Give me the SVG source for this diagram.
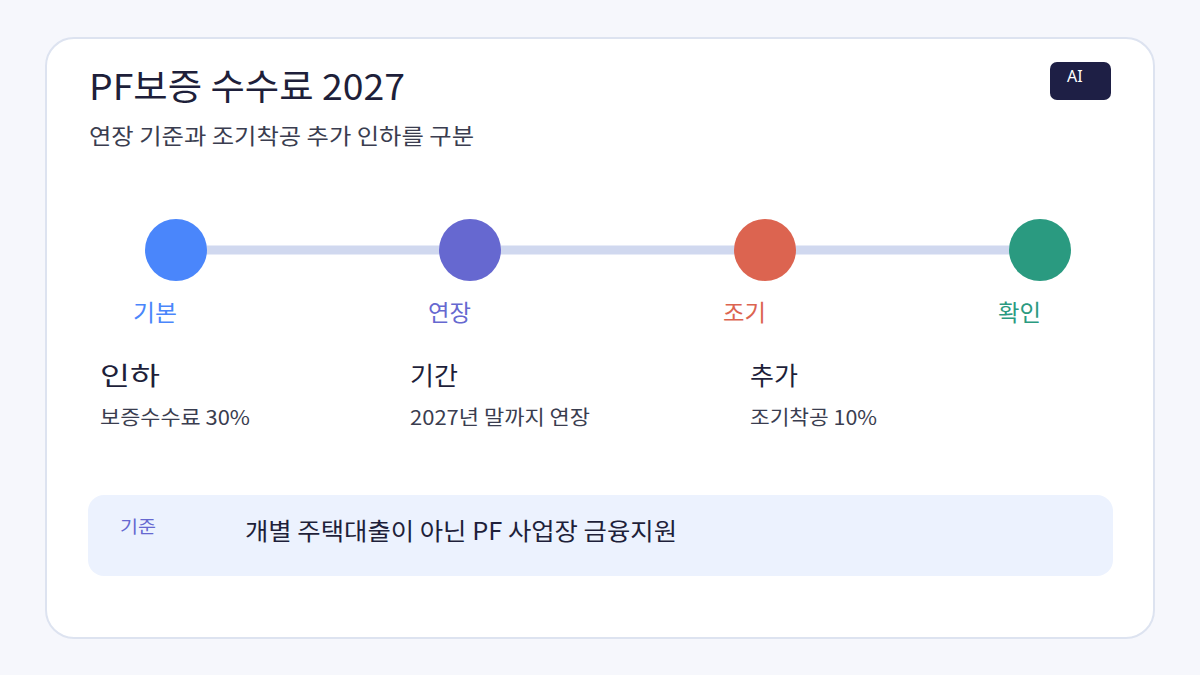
<svg xmlns="http://www.w3.org/2000/svg" width="1200" height="675" viewBox="0 0 1200 675">
<style>
text{font-family:"Noto Sans CJK KR","Noto Sans",sans-serif}
.title{font-size:36px;fill:#1e1f3a}
.sub{font-size:22px;fill:#3a3d4f}
.lbl{font-size:23px;text-anchor:end}
.head{font-size:25px;fill:#1e1f3a}
.det{font-size:20px;fill:#3a3d4f}
</style>
<rect width="1200" height="675" fill="#f6f7fc"/>
<rect x="46" y="38" width="1108" height="600" rx="28" fill="#ffffff" stroke="#dde3f0" stroke-width="2"/>
<text class="title" x="89" y="100" textLength="316" lengthAdjust="spacingAndGlyphs">PF보증 수수료 2027</text>
<text class="sub" x="89" y="144" textLength="385" lengthAdjust="spacingAndGlyphs">연장 기준과 조기착공 추가 인하를 구분</text>
<g id="badge">
<rect x="1050" y="62" width="61" height="38" rx="7" fill="#1e1f45"/>
<text x="1067" y="82" font-size="16" fill="#ffffff" style="font-family:'Noto Sans',sans-serif">AI</text>
</g>
<g id="connectors">
<line x1="176" y1="250" x2="1040" y2="250" stroke="#d0d8ef" stroke-width="9"/>
</g>
<g id="n1">
<circle cx="176" cy="250" r="31" fill="#4a86fb"/>
<text class="lbl" x="177" y="321" fill="#4a86fb" textLength="44" lengthAdjust="spacingAndGlyphs">기본</text>
<text class="head" x="100" y="385" textLength="60" lengthAdjust="spacingAndGlyphs">인하</text>
<text class="det" x="100" y="425" textLength="150" lengthAdjust="spacingAndGlyphs">보증수수료 30%</text>
</g>
<g id="n2">
<circle cx="470" cy="250" r="31" fill="#6668d0"/>
<text class="lbl" x="471" y="321" fill="#6668d0" textLength="43" lengthAdjust="spacingAndGlyphs">연장</text>
<text class="head" x="410" y="385" textLength="48" lengthAdjust="spacingAndGlyphs">기간</text>
<text class="det" x="410" y="425" textLength="180" lengthAdjust="spacingAndGlyphs">2027년 말까지 연장</text>
</g>
<g id="n3">
<circle cx="765" cy="250" r="31" fill="#dc6450"/>
<text class="lbl" x="766" y="321" fill="#dc6450" textLength="43" lengthAdjust="spacingAndGlyphs">조기</text>
<text class="head" x="750" y="385" textLength="48" lengthAdjust="spacingAndGlyphs">추가</text>
<text class="det" x="750" y="425" textLength="127" lengthAdjust="spacingAndGlyphs">조기착공 10%</text>
</g>
<g id="n4">
<circle cx="1040" cy="250" r="31" fill="#2a9a80"/>
<text class="lbl" x="1041" y="321" fill="#2a9a80" textLength="43" lengthAdjust="spacingAndGlyphs">확인</text>
</g>
<g id="note">
<rect x="88" y="495" width="1025" height="81" rx="16" fill="#ecf2fe"/>
<text x="120" y="533" font-size="17" fill="#6668d0" textLength="36" lengthAdjust="spacingAndGlyphs">기준</text>
<text x="245" y="540" font-size="24" fill="#1e1f3a" textLength="432" lengthAdjust="spacingAndGlyphs">개별 주택대출이 아닌 PF 사업장 금융지원</text>
</g>
</svg>
